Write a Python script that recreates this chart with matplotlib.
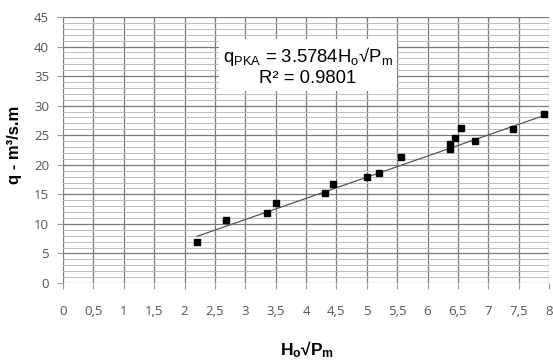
import numpy as np
import matplotlib
matplotlib.use("Agg")
import matplotlib.pyplot as plt
from matplotlib.ticker import MultipleLocator, FuncFormatter
from matplotlib import font_manager

# Data
x_vals = [2.21, 2.68, 3.36, 3.51, 4.32, 4.44, 5.01, 5.20, 5.56, 6.37, 6.37, 6.46, 6.55, 6.78, 7.41, 7.91]
y_vals = [6.9, 10.7, 11.9, 13.5, 15.3, 16.7, 18.0, 18.6, 21.3, 22.7, 23.5, 24.5, 26.3, 24.0, 26.0, 28.6]
slope = 3.5784
r2 = 0.9801
x_ticks = [0, 0.5, 1, 1.5, 2, 2.5, 3, 3.5, 4, 4.5, 5, 5.5, 6, 6.5, 7, 7.5, 8]
y_ticks = [0, 5, 10, 15, 20, 25, 30, 35, 40, 45]

names = {f.name for f in font_manager.fontManager.ttflist}
narrow = 'Liberation Sans Narrow' if 'Liberation Sans Narrow' in names else 'Liberation Sans'

plt.rcParams['mathtext.fontset'] = 'custom'
plt.rcParams['mathtext.rm'] = narrow
plt.rcParams['mathtext.it'] = narrow
plt.rcParams['mathtext.bf'] = narrow + ':bold'

fig = plt.figure(figsize=(5.53, 3.62), dpi=100)
ax = fig.add_axes([63/553, 1-283/362, (549-63)/553, (283-17)/362])

ax.set_xlim(0, 8)
ax.set_ylim(0, 45)
ax.set_xticks(x_ticks)
ax.set_yticks(y_ticks)
ax.yaxis.set_minor_locator(MultipleLocator(1))
ax.xaxis.set_major_formatter(FuncFormatter(lambda v, p: ('%g' % v).replace('.', ',')))

ax.grid(True, which='major', axis='both', color='#7a7a7a', linewidth=0.9)
ax.grid(True, which='minor', axis='y', color='#bdbdbd', linewidth=0.7)
ax.set_axisbelow(True)
for s in ax.spines.values():
    s.set_visible(False)
ax.tick_params(axis='both', which='major', length=4, color='#9a9a9a',
               labelsize=9.5, labelcolor='#555555', pad=6)
ax.tick_params(axis='y', which='minor', length=0)
for lab in ax.get_xticklabels() + ax.get_yticklabels():
    lab.set_family('Open Sans')
ax.tick_params(axis='x', pad=12)

# trend line
xl = np.array([min(x_vals), max(x_vals)])
ax.plot(xl, slope * xl, color='#555555', linewidth=0.9, zorder=3)
ax.plot(x_vals, y_vals, 's', color='black', markersize=3.7, zorder=4)

ax.text((308-63)/486, (283-66)/266,
        'q$_\\mathregular{PKA}$ = %gH$_\\mathregular{o}$√P$_\\mathregular{m}$\nR² = %g' % (slope, r2),
        transform=ax.transAxes, ha='center', va='center', fontsize=13.3,
        family=narrow, linespacing=1.15, color='black',
        bbox=dict(boxstyle='square,pad=0.2', facecolor='white', edgecolor='none'), zorder=5)

fig.text(15/553, 1-145/362, 'q - m³/s.m', rotation=90, ha='center', va='center',
         fontsize=12, fontweight='bold', family='Liberation Sans')
fig.text(307/553, 1-350/362, 'H$_\\mathregular{o}$√P$_\\mathregular{m}$', ha='center', va='center',
         fontsize=12.5, family=narrow, fontweight='bold')

fig.savefig('out.png', dpi=100)
